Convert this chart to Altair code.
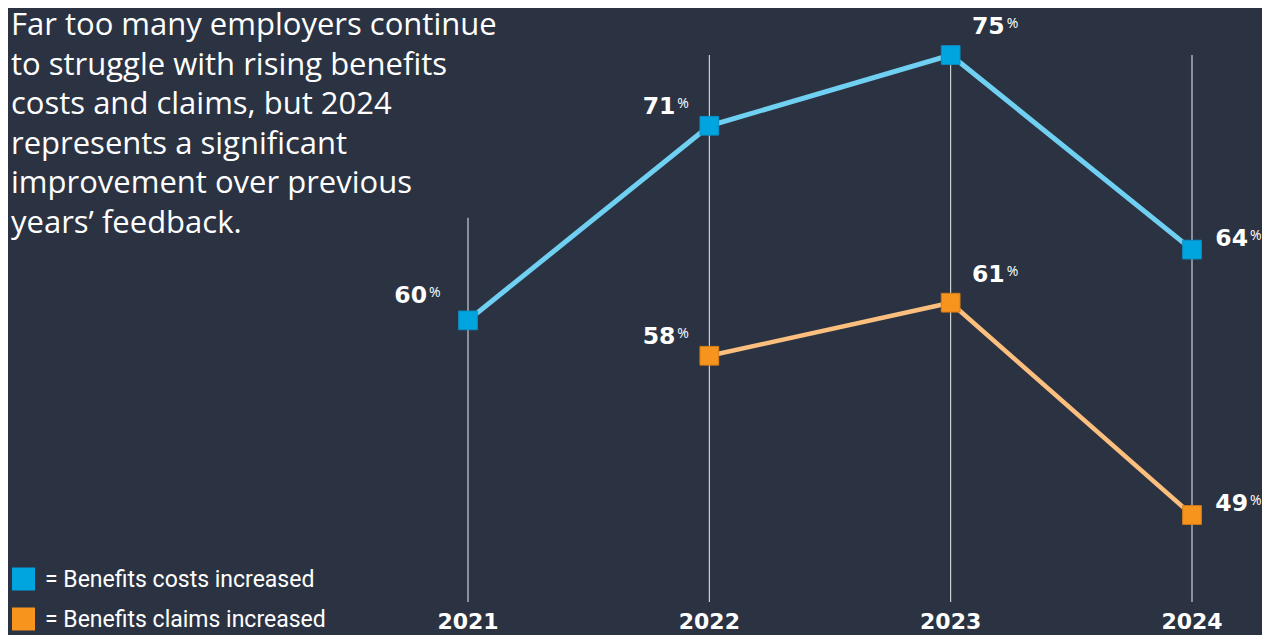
import altair as alt
import pandas as pd

years = [2021, 2022, 2023, 2024]
costs = [60, 71, 75, 64]
claim_years = [2022, 2023, 2024]
claims = [58, 61, 49]
rule_tops = [65.8, 75, 75, 75]
title_lines = [
    "Far too many employers continue",
    "to struggle with rising benefits",
    "costs and claims, but 2024",
    "represents a significant",
    "improvement over previous",
    "years\u2019 feedback.",
]
legend_labels = ["= Benefits costs increased", "= Benefits claims increased"]

BG = "#2b3343"
BLUE = "#00a5e0"
BLUE_LINE = "#6fd0f2"
ORANGE = "#f7941e"
ORANGE_LINE = "#fdbf7d"
NUMFONT = "DejaVu Sans"

xs = alt.Scale(domain=[2021, 2024], range=[460, 1184])
ys = alt.Scale(domain=[49, 75], range=[507, 47], zero=False, nice=False)

cost_df = pd.DataFrame({"year": years, "value": costs})
claim_df = pd.DataFrame({"year": claim_years, "value": claims})
rule_df = pd.DataFrame({"year": years, "top": rule_tops})

X = alt.X("year:Q", scale=xs, axis=None)
Y = alt.Y("value:Q", scale=ys, axis=None)

rules = alt.Chart(rule_df).mark_rule(color="#ececec", strokeWidth=1).encode(
    x=X, y=alt.Y("top:Q", scale=ys, axis=None), y2=alt.value(594)
)

year_labels = alt.Chart(rule_df).mark_text(
    font=NUMFONT, fontWeight="bold", fontSize=22, color="white", align="center", baseline="alphabetic"
).encode(x=X, y=alt.value(621), text=alt.Text("year:Q", format="d"))


def series_layers(df, line_color, line_w, pt_color, pt_stroke):
    base = alt.Chart(df).encode(x=X, y=Y)
    line = base.mark_line(color=line_color, strokeWidth=line_w)
    pts = base.mark_square(size=350, color=pt_color, opacity=1, stroke=pt_stroke, strokeWidth=1)
    return [line, pts]


def labels(df):
    out = []
    groups = [
        ("datum.year == 2021", -41, -17),
        ("datum.year == 2022", -34, -12),
        ("datum.year == 2023", 54, -21),
        ("datum.year == 2024", 56, -4),
    ]
    for cond, dx, dy in groups:
        b = alt.Chart(df).transform_filter(cond).encode(x=X, y=Y)
        num = b.mark_text(
            font=NUMFONT, fontWeight="bold", fontSize=23.5, color="white",
            align="right", baseline="alphabetic", dx=dx, dy=dy,
        ).encode(text=alt.Text("value:Q", format="d"))
        pct = b.mark_text(
            font="Open Sans", fontSize=14, color="white",
            align="left", baseline="alphabetic", dx=dx + 2, dy=dy - 6,
        ).encode(text=alt.value("%"))
        out += [num, pct]
    return out


title_layers = []
for i, line_text in enumerate(title_lines):
    title_layers.append(
        alt.Chart(pd.DataFrame({"text": [line_text]})).mark_text(
            font="Open Sans", fontSize=31, color="white", align="left", baseline="alphabetic",
        ).encode(x=alt.value(3), y=alt.value(27 + 39.5 * i), text="text:N")
    )

leg_df0 = pd.DataFrame({"label": [legend_labels[0]]})
leg_df1 = pd.DataFrame({"label": [legend_labels[1]]})
leg = []
for df, col, yc in [(leg_df0, BLUE, 571), (leg_df1, ORANGE, 611)]:
    leg.append(alt.Chart(df).mark_square(size=529, color=col, opacity=1).encode(
        x=alt.value(15.5), y=alt.value(yc)))
    leg.append(alt.Chart(df).mark_text(
        font="Roboto", fontSize=23, color="white", align="left", baseline="alphabetic"
    ).encode(x=alt.value(37), y=alt.value(yc + 8), text="label:N"))

layers = [rules, year_labels]
layers += series_layers(cost_df, BLUE_LINE, 5, BLUE, "#0a8fc4")
layers += series_layers(claim_df, ORANGE_LINE, 4.5, ORANGE, "#d97f17")
layers += labels(cost_df) + labels(claim_df)
layers += title_layers + leg

chart = alt.layer(*layers).properties(
    width=1254, height=627, background=BG, padding=0,
    autosize=alt.AutoSizeParams(type="none"),
).configure_view(stroke=None)

chart.save("out.html", embed_options={"renderer": "svg", "actions": False})
